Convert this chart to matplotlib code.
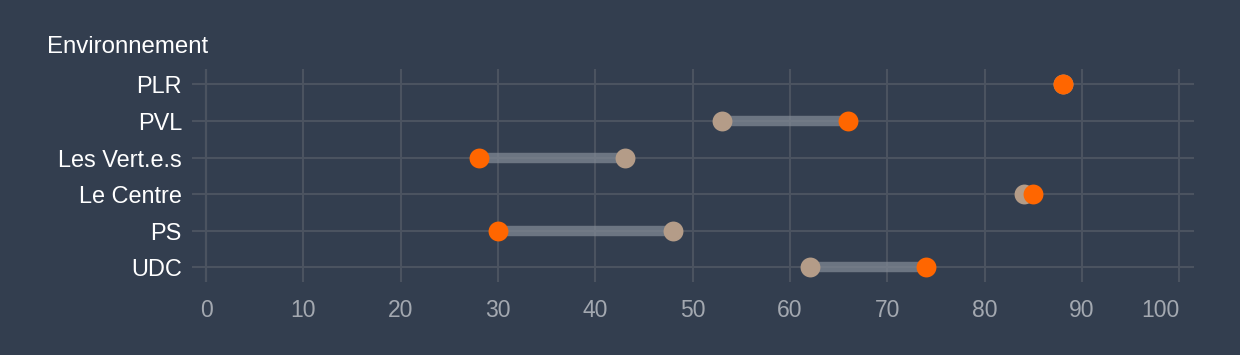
import numpy as np
from matplotlib import pyplot as plt

plt.rcParams['font.family'] = ['Liberation Sans', 'DejaVu Sans']

parties = ['PLR', 'PVL', 'Les Vert.e.s', 'Le Centre', 'PS', 'UDC']
beige_vals = [88, 53, 43, 84, 48, 62]
orange_vals = [88, 66, 28, 85, 30, 74]
xticks = [0, 10, 20, 30, 40, 50, 60, 70, 80, 90, 100]

bg = '#333e4f'
fig = plt.figure(figsize=(12.4, 3.55), dpi=100, facecolor=bg)
ax = fig.add_axes([192/1240, 1-282/355, (1194-192)/1240, (282-69)/355])
ax.set_facecolor(bg)

y = np.arange(len(parties))[::-1]

for yi, b, o in zip(y, beige_vals, orange_vals):
	ax.plot([b, o], [yi, yi], color='#808894', alpha=0.75, lw=7.5,
		solid_capstyle='butt', zorder=2)
ax.scatter(beige_vals, y, s=205, color='#b49c88', zorder=3, linewidths=0)
ax.scatter(orange_vals, y, s=205, color='#ff6600', zorder=4, linewidths=0)

ax.set_xlim(-1.45, 101.5)
ax.set_ylim(-0.4, len(parties) - 1 + 0.42)
ax.set_xticks(xticks)
ax.set_yticks(y)
ax.set_yticklabels(parties)
ax.tick_params(axis='y', length=0, pad=7.2, labelsize=16.9, labelcolor='#ffffff')
ax.tick_params(axis='x', length=0, pad=12, labelsize=16.5, labelcolor='#a3a8b0')
# last label sits flush right against its gridline
ax.get_xticklabels()[-1].set_ha('right')

ax.grid(True, color='#4b5360', lw=1.5, zorder=0)
for s in ax.spines.values():
	s.set_visible(False)
ax.axvline(0, color='#6c7480', lw=1.5, zorder=1)

fig.text(47/1240, 1-53/355, 'Environnement', color='white', fontsize=17.3,
	va='baseline', ha='left')

fig.savefig('out.png', dpi=100, facecolor=bg)
